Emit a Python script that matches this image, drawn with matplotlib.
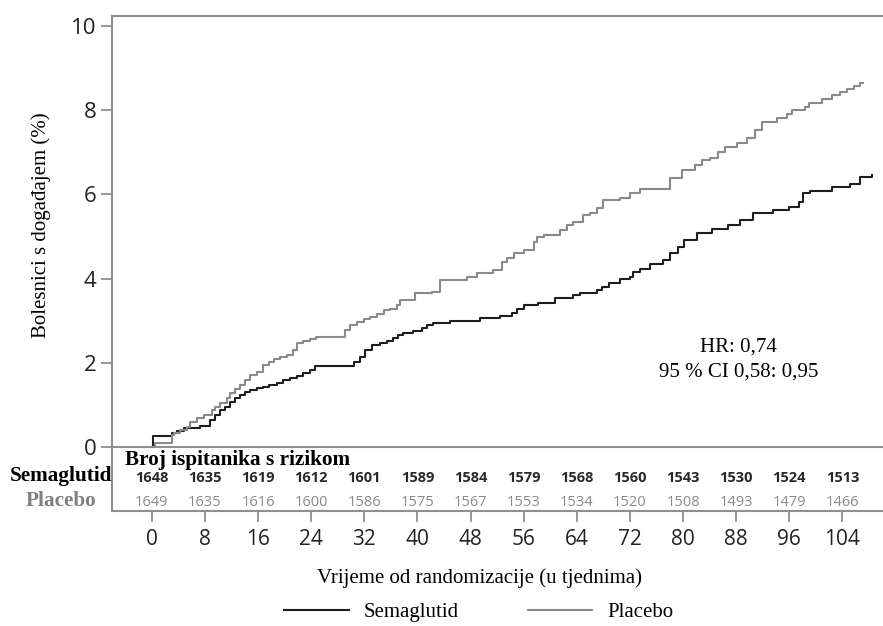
import numpy as np
import matplotlib.pyplot as plt
from matplotlib.lines import Line2D

# krivulje (tjedni, % bolesnika s događajem)
sema_weeks = [0, 0.25, 3.0, 3.8, 4.8, 7.3, 8.8, 9.5, 10.3, 11.0, 11.8, 12.5, 13.3, 14.1,
              14.8, 15.8, 16.8, 17.6, 18.8, 19.8, 20.8, 21.8, 22.8, 23.8, 24.6, 30.4,
              31.4, 32.1, 33.1, 34.4, 35.4, 36.4, 37.1, 37.9, 39.4, 40.7, 41.4, 42.4,
              44.9, 49.4, 52.5, 54.2, 55.0, 56.0, 58.2, 60.7, 63.5, 64.5, 67.0, 67.8,
              68.8, 70.5, 72.0, 72.5, 73.5, 75.0, 77.0, 78.1, 79.3, 80.1, 82.1, 84.3,
              86.8, 88.6, 90.6, 93.6, 95.9, 97.4, 98.1, 99.1, 102.4, 105.2, 106.7, 108.4]
sema_pct = [0, 0.25, 0.33, 0.38, 0.45, 0.50, 0.64, 0.76, 0.88, 0.96, 1.08, 1.16, 1.24, 1.31,
            1.35, 1.40, 1.42, 1.47, 1.53, 1.59, 1.64, 1.69, 1.76, 1.83, 1.92, 2.03,
            2.15, 2.30, 2.42, 2.47, 2.53, 2.60, 2.66, 2.72, 2.76, 2.82, 2.90, 2.94,
            2.99, 3.06, 3.11, 3.19, 3.29, 3.37, 3.43, 3.53, 3.61, 3.66, 3.73, 3.81,
            3.89, 3.98, 4.05, 4.16, 4.24, 4.35, 4.44, 4.60, 4.76, 4.92, 5.09, 5.19,
            5.27, 5.39, 5.57, 5.63, 5.71, 5.83, 6.03, 6.08, 6.18, 6.26, 6.42, 6.46]

plac_weeks = [0, 0.5, 3.0, 3.3, 4.3, 5.3, 5.8, 6.8, 7.8, 9.1, 9.5, 10.3, 11.3, 11.8, 12.5,
              13.3, 14.1, 14.8, 15.8, 16.8, 17.6, 18.4, 19.3, 20.3, 21.3, 21.8, 22.8,
              23.8, 24.8, 29.1, 29.9, 30.9, 31.9, 32.9, 33.9, 34.9, 35.9, 36.9, 37.4,
              39.7, 42.2, 43.4, 47.4, 48.9, 51.4, 52.7, 53.5, 54.5, 56.0, 57.5, 58.0,
              59.0, 61.5, 62.5, 63.5, 65.0, 66.0, 67.0, 68.0, 70.5, 72.0, 73.5, 78.1,
              79.8, 81.8, 82.8, 84.1, 85.3, 86.3, 88.1, 89.6, 90.9, 91.9, 94.1, 95.6,
              96.4, 98.4, 98.9, 100.9, 102.4, 103.7, 104.7, 105.7, 106.7, 107.1]
plac_pct = [0, 0.10, 0.29, 0.33, 0.40, 0.48, 0.60, 0.68, 0.76, 0.88, 0.96, 1.04, 1.16, 1.28, 1.37,
            1.47, 1.59, 1.71, 1.79, 1.95, 2.03, 2.08, 2.15, 2.19, 2.30, 2.46, 2.52,
            2.56, 2.62, 2.78, 2.90, 2.98, 3.03, 3.10, 3.16, 3.25, 3.29, 3.37, 3.49,
            3.65, 3.69, 3.97, 4.05, 4.14, 4.20, 4.40, 4.48, 4.62, 4.68, 4.88, 4.98,
            5.04, 5.15, 5.27, 5.35, 5.51, 5.57, 5.67, 5.87, 5.91, 6.03, 6.12, 6.38,
            6.58, 6.70, 6.82, 6.86, 7.01, 7.13, 7.23, 7.33, 7.53, 7.73, 7.81, 7.91,
            8.00, 8.08, 8.18, 8.26, 8.36, 8.44, 8.50, 8.57, 8.64, 8.64]

# broj ispitanika s rizikom
risk_weeks = [0, 8, 16, 24, 32, 40, 48, 56, 64, 72, 80, 88, 96, 104]
risk_sema = [1648, 1635, 1619, 1612, 1601, 1589, 1584, 1579, 1568, 1560, 1543, 1530, 1524, 1513]
risk_plac = [1649, 1635, 1616, 1600, 1586, 1575, 1567, 1553, 1534, 1520, 1508, 1493, 1479, 1466]

black = '#1e1e1e'
grey = '#8a8a8a'
frame = '#8f8f8f'
serif = 'Liberation Serif'
sans = 'Open Sans'

W, H = 883, 626
fig = plt.figure(figsize=(W / 100, H / 100), dpi=100)
ax = fig.add_axes([112 / W, 1 - 511 / H, 1 - 112 / W, (511 - 16) / H])

ax.step(sema_weeks, sema_pct, where='post', color=black, lw=1.5)
ax.step(plac_weeks, plac_pct, where='post', color=grey, lw=1.5)
ax.axhline(0, color=frame, lw=1.5)

ax.set_xlim(-5.98, 110.1)
ax.set_ylim(-1.52, 10.24)

for s in ['left', 'top', 'bottom']:
    ax.spines[s].set_color(frame)
    ax.spines[s].set_linewidth(1.5)
ax.spines['right'].set_visible(False)

ax.set_yticks([0, 2, 4, 6, 8, 10])
ax.set_xticks(risk_weeks)
ax.tick_params(axis='both', colors=frame, width=1.3, length=8, labelcolor='#222222')
ax.tick_params(axis='y', labelsize=16, pad=3)
ax.tick_params(axis='x', labelsize=15, pad=5)
for lab in ax.get_xticklabels() + ax.get_yticklabels():
    lab.set_fontfamily(sans)

fig.text(41 / W, 1 - 225 / H, 'Bolesnici s događajem (%)', fontsize=15, family=serif,
         rotation=90, ha='center', va='center')
fig.text(480 / W, 1 - 578 / H, 'Vrijeme od randomizacije (u tjednima)', fontsize=15,
         family=serif, ha='center', va='center')

# tablica rizika
ax.text(-4.0, -0.30, 'Broj ispitanika s rizikom', fontsize=15.3, family=serif,
        fontweight='bold', va='center', ha='left')
ax.text(-13.66, -0.70, 'Semaglutid', fontsize=15.3, family=serif, fontweight='bold',
        va='center', ha='center', clip_on=False)
ax.text(-13.66, -1.29, 'Placebo', fontsize=15.3, family=serif, fontweight='bold',
        va='center', ha='center', color='#808080', clip_on=False)
for w, a, b in zip(risk_weeks, risk_sema, risk_plac):
    ax.text(w, -0.74, str(a), fontsize=10.5, family=sans, fontweight='bold',
            ha='center', va='center', color='#2a2a2a')
    ax.text(w, -1.31, str(b), fontsize=10.5, family=sans, ha='center', va='center',
            color=grey)

ax.text(88.3, 2.375, 'HR: 0,74', fontsize=15, family=serif, ha='center', va='center')
ax.text(88.3, 1.78, '95 % CI 0,58: 0,95', fontsize=15, family=serif, ha='center',
        va='center')

handles = [Line2D([], [], color=black, lw=1.5), Line2D([], [], color=grey, lw=1.5)]
fig.legend(handles, ['Semaglutid', 'Placebo'], loc='center', bbox_to_anchor=(479 / W, 1 - 612 / H),
           ncol=2, frameon=False, prop={'family': serif, 'size': 15},
           handlelength=3.1, columnspacing=3.3, handletextpad=0.72,
           borderpad=0, borderaxespad=0)

fig.savefig('out.png', dpi=100)
